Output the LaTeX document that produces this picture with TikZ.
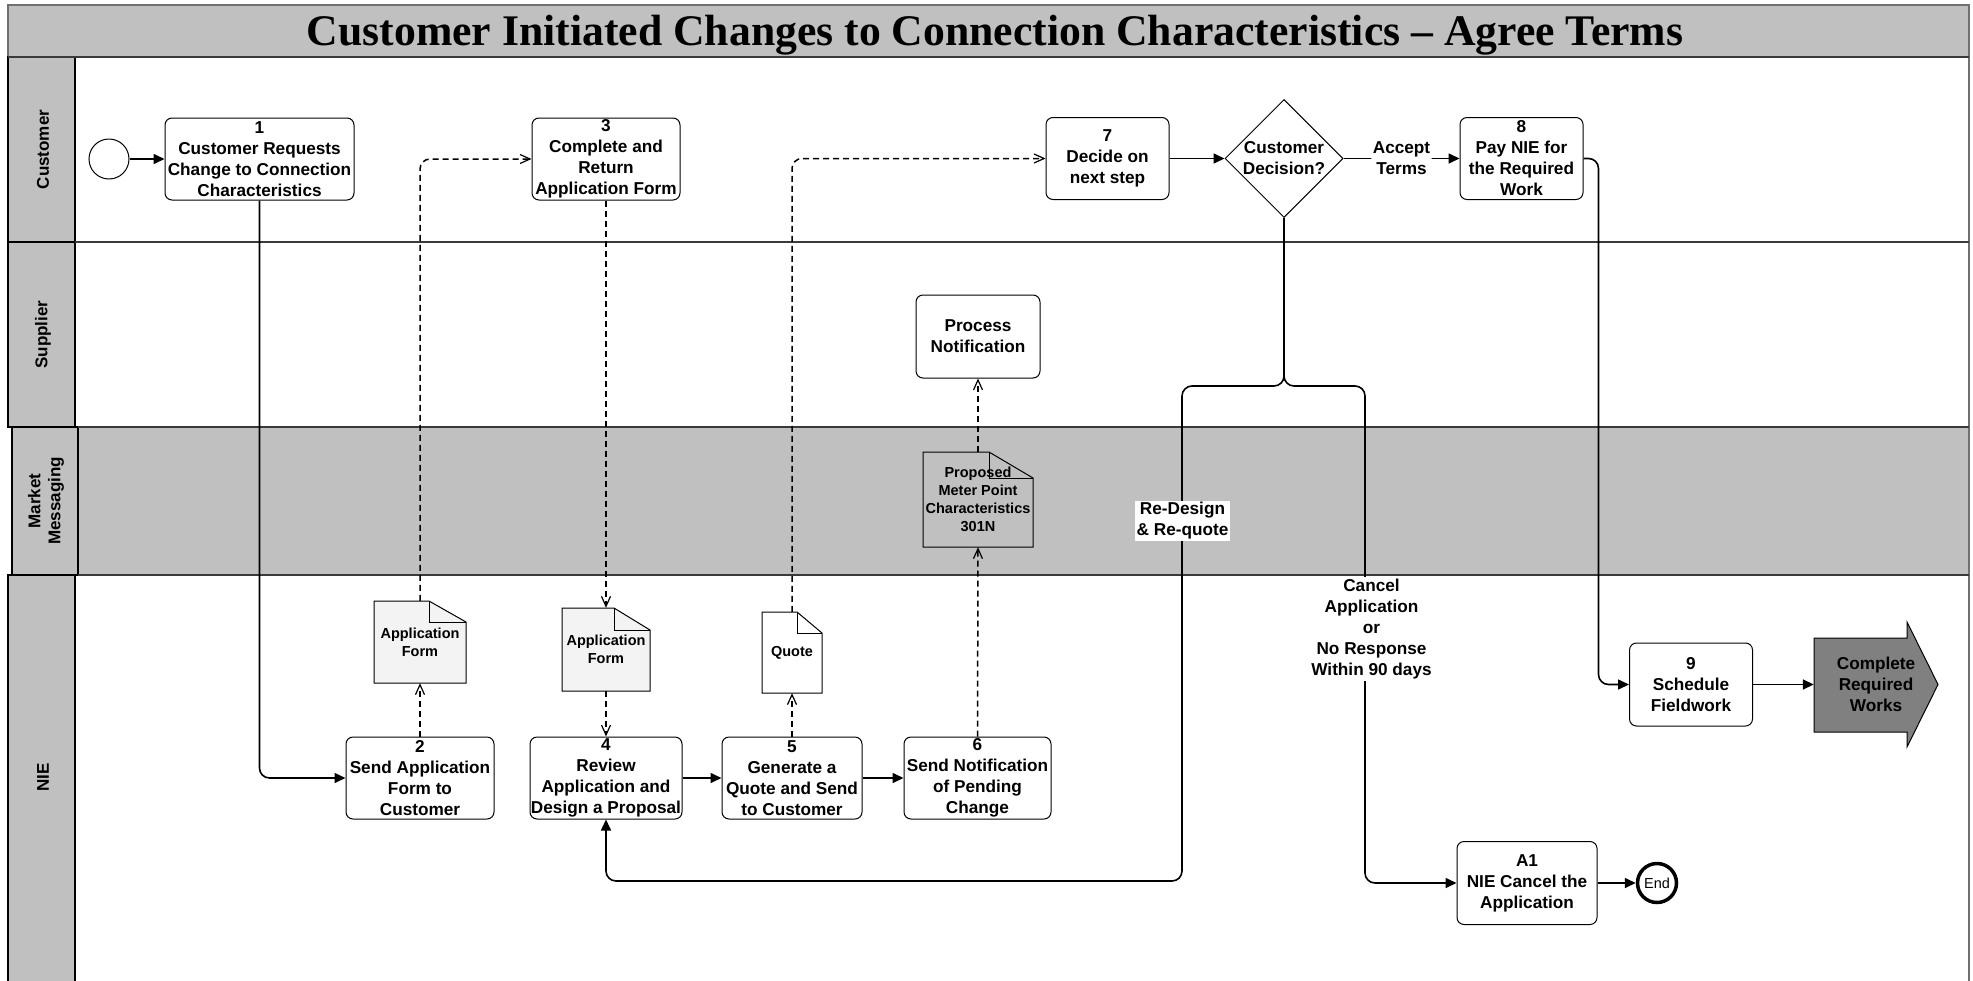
\documentclass[tikz,border=0pt]{standalone}
\usepackage{fontspec}
\setmainfont{Liberation Sans}
\newfontfamily\titlefont{Liberation Serif}
\usetikzlibrary{arrows.meta,shapes.geometric}
\definecolor{lanegray}{HTML}{C0C0C0}
\definecolor{docgray}{HTML}{F3F3F3}
\definecolor{worksgray}{HTML}{808080}
\definecolor{sepgray}{HTML}{3A3A3A}
\definecolor{edgegray}{HTML}{707070}

\tikzset{
  txt/.style={font=\bfseries\fontsize{17.2}{21}\selectfont, align=center, inner sep=0pt},
  task/.style={txt, draw=black, line width=1pt, rounded corners=7pt, fill=white, minimum height=82},
  doctext/.style={font=\bfseries\fontsize{14.5}{18}\selectfont, align=center, inner sep=0pt},
  docline/.style={draw=black, line width=1pt},
  flow/.style={draw=black, line width=1.6pt, rounded corners=10pt, -{Triangle[length=11pt,width=10pt]}},
  msg/.style={draw=black, line width=1.5pt, dash pattern=on 6pt off 4pt, rounded corners=10pt, -{Straight Barb[length=10pt,width=9pt,line width=1.2pt]}},
  lbl/.style={txt, fill=white, inner sep=1.5pt},
  lanelabel/.style={font=\bfseries\fontsize{17}{20}\selectfont, align=center, inner sep=0pt, rotate=90},
  labelcol/.style={fill=lanegray, draw=black, line width=1.2pt},
  sep/.style={draw=sepgray, line width=2.5pt},
}

\newcommand\docshape[9]{%
  \filldraw[docline, fill=#8] (#2,#3) -- ({#4-#6},#3) -- (#4,{#3+#7}) -- (#4,#5) -- (#2,#5) -- cycle;
  \draw[docline] ({#4-#6},#3) -- ({#4-#6},{#3+#7}) -- (#4,{#3+#7});
  \pgfmathsetmacro\docw{#4-#2}%
  \pgfmathsetmacro\doch{#5-#3}%
  \node[doctext, minimum width=\docw, minimum height=\doch] (#1) at ({(#2+#4)/2},{(#3+#5)/2}) {#9};
}

\begin{document}
\begin{tikzpicture}[x=1pt,y=-1pt]
\useasboundingbox (0,0) rectangle (1973,980);
\fill[white] (0,0) rectangle (1973,980);

% ---------- pool and lanes ----------
\filldraw[fill=lanegray, draw=edgegray, line width=1.5pt] (8,5) rectangle (1969,57);
\fill[lanegray] (75,427) rectangle (1969,575);
\draw[edgegray, line width=1.5pt] (1969,57) -- (1969,995);
\draw[labelcol] (8,57) rectangle (75,242);
\draw[labelcol] (8,242) rectangle (75,427);
\draw[labelcol] (12,427) rectangle (78,575);
\draw[labelcol] (8,575) rectangle (75,995);
\draw[sep] (8,57) -- (1969,57);
\draw[sep] (75,242) -- (1969,242);
\draw[sep] (78,427) -- (1969,427);
\draw[sep] (78,575) -- (1969,575);

\node[font=\titlefont\bfseries\fontsize{43.7}{50}\selectfont, inner sep=0pt, anchor=base] (title) at (995,45) {Customer Initiated Changes to Connection Characteristics – Agree Terms};

\node[lanelabel] (lcust) at (43,149.5) {Customer};
\node[lanelabel] (lsup) at (43,334.5) {Supplier};
\node[lanelabel] (lmm) at (46,501) {Market\\Messaging};
\node[lanelabel] (lnie) at (43,777.5) {NIE};

% ---------- customer lane ----------
\node[circle, draw=black, line width=1pt, fill=white, minimum size=40, inner sep=0pt] (start) at (109,159) {};
\node[task, minimum width=189] (b1) at (259.5,159) {1\\Customer Requests\\Change to Connection\\Characteristics};
\node[task, minimum width=148] (b3) at (606,159) {3\\Complete and\\Return\\Application Form};
\node[task, minimum width=123] (b7) at (1107.5,158.5) {7\\Decide on\\next step};
\node[diamond, draw=black, line width=1pt, fill=white, minimum width=118, minimum height=118, inner sep=0pt] (dec) at (1284,158.5) {};
\node[txt] (dect) at (1284,158.5) {Customer\\Decision?};
\node[task, minimum width=123] (b8) at (1521.5,158.5) {8\\Pay NIE for\\the Required\\Work};

% ---------- supplier lane ----------
\node[task, minimum width=124, minimum height=83] (pn) at (978,336.5) {Process\\Notification};

% ---------- documents ----------
\docshape{d1}{374}{601}{466}{683}{37}{21}{docgray}{Application\\Form}
\docshape{d2}{562}{608}{650}{691}{36}{22}{docgray}{Application\\Form}
\docshape{dq}{762}{612}{822}{693}{25}{21}{white}{Quote}
\docshape{dm}{923}{452}{1033}{547}{44}{26}{lanegray}{Proposed\\Meter Point\\Characteristics\\301N}

% ---------- NIE lane ----------
\node[task, minimum width=148] (b2) at (420,778) {2\\Send Application\\Form to\\Customer};
\node[task, minimum width=152] (b4) at (606,778) {4\\Review\\Application and\\Design a Proposal};
\node[task, minimum width=140] (b5) at (792,778) {5\\Generate a\\Quote and Send\\to Customer};
\node[task, minimum width=147] (b6) at (977.5,778) {6\\Send Notification\\of Pending\\Change};
\node[task, minimum width=123, minimum height=83] (b9) at (1691,684.5) {9\\Schedule\\Fieldwork};
\node[task, minimum width=140, minimum height=83] (a1) at (1527,883) {A1\\NIE Cancel the\\Application};
\node[circle, draw=black, line width=3.5pt, fill=white, minimum size=39, inner sep=0pt, font=\fontsize{14.5}{16}\selectfont] (end) at (1657,883) {End};

\filldraw[fill=worksgray, draw=black, line width=1pt] (1814,638) -- (1907,638) -- (1907,622) -- (1938,684.5) -- (1907,747) -- (1907,732) -- (1814,732) -- cycle;
\node[txt, minimum width=124, minimum height=94] (works) at (1876,684.5) {Complete\\Required\\Works};

% ---------- connectors ----------
\draw[flow] (start.east) -- (b1.west);
\draw[flow] (b1.south) |- (b2.west);
\draw[msg] (b2.north) -- (d1.south);
\draw[msg] (d1.north) |- (b3.west);
\draw[msg] (b3.south) -- (d2.north);
\draw[msg] (d2.south) -- (b4.north);
\draw[flow] (b4.east) -- (b5.west);
\draw[flow] (b5.east) -- (b6.west);
\draw[msg] (b5.north) -- (dq.south);
\draw[msg] (dq.north) |- (b7.west);
\draw[msg] (b6.north) -- (dm.south);
\draw[msg] (dm.north) -- (pn.south);
\draw[flow] (b7.east) -- (dec.west);
\draw[flow] (dec.east) -- node[lbl] (acc) {Accept\\Terms} (b8.west);
\draw[flow] (b8.east) -- ++(15,0) |- (b9.west);
\draw[flow] (b9.east) -- (works.west);
\draw[flow] (dec.south) -- (1284,386) -- (1182,386) -- (1182,881) -- (606,881) -- (b4.south);
\draw[flow] (dec.south) -- (1284,386) -- (1365,386) |- (a1.west);
\draw[flow] (a1.east) -- (end.west);

\node[lbl] (redesign) at (1182.5,521) {Re-Design\\\& Re-quote};
\node[lbl] (cancel) at (1371.5,629) {Cancel\\Application\\or\\No Response\\Within 90 days};
\end{tikzpicture}
\end{document}
